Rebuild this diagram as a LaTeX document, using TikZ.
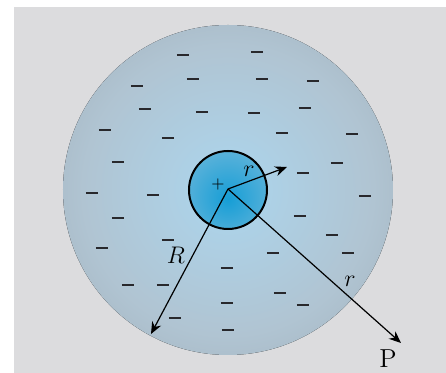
\documentclass[tikz,border=0pt]{standalone}
\usepackage{amsmath}
\usepackage{xcolor}
\usetikzlibrary{arrows.meta,positioning}

\definecolor{paper}{RGB}{220,220,222}
\definecolor{shellin}{RGB}{172,214,238}
\definecolor{shellmid}{RGB}{176,196,210}
\definecolor{shellout}{RGB}{146,154,162}
\definecolor{corein}{RGB}{22,158,214}
\definecolor{coreout}{RGB}{140,192,220}
\definecolor{ink}{RGB}{40,40,44}

\pgfdeclareradialshading{shell}{\pgfpointorigin}{color(0bp)=(shellin); color(22bp)=(shellmid); color(50bp)=(shellout); color(72bp)=(shellout)}
\pgfdeclareradialshading{core}{\pgfpoint{0bp}{-6bp}}{color(0bp)=(corein); color(50bp)=(coreout); color(72bp)=(coreout)}

\begin{document}
\begin{tikzpicture}[
    x=0.5pt, y=-0.5pt,
    vec/.style={-{Stealth[length=6pt,width=5pt]}, line width=0.6pt},
    lbl/.style={inner sep=0pt, font=\fontsize{13}{15}\selectfont},
    charge/.style={ink, line width=1.1pt}
]

% frame
\useasboundingbox (0,0) rectangle (446,373);
\fill[white] (0,0) rectangle (446,373);
\fill[paper] (14,7) rectangle (446,373);

% charged sphere and core
\fill[shading=shell] (228,190) circle (165);
\fill[shading=core] (228,190) circle (39);
\draw[line width=1pt] (228,190) circle (39);

% negative charges
\foreach \x/\y in {183/55, 257/52, 193/79, 262/79, 313/81, 137/86,
    145/109, 202/112, 254/113, 305/108, 105/130, 168/138, 282/133,
    352/134, 118/162, 337/163, 303/173, 92/193, 153/195, 365/196,
    118/218, 300/216, 332/235, 168/240, 102/248, 273/253, 348/253,
    227/268, 128/285, 163/285, 280/293, 227/303, 303/305, 175/318, 228/330}
  \draw[charge] (\x-6,\y) -- (\x+6,\y);

\node[inner sep=0pt, font=\fontsize{8}{9}\selectfont] (plus) at (218,185) {$+$};

% radii
\coordinate (O) at (228,189);
\coordinate (rtip) at (287,167);
\coordinate (Rtip) at (151,334);
\coordinate (Ptip) at (401,343);

\draw[vec] (O) -- (rtip);
\draw[vec] (O) -- (Rtip);
\draw[vec] (O) -- (Ptip);

\node[lbl] (rin) at (249,171) {$r$};
\node[lbl] (Rlbl) at (176,255) {$R$};
\node[lbl] (rout) at (350,281) {$r$};
\node[lbl] (P) at (388,359) {P};

\end{tikzpicture}
\end{document}
